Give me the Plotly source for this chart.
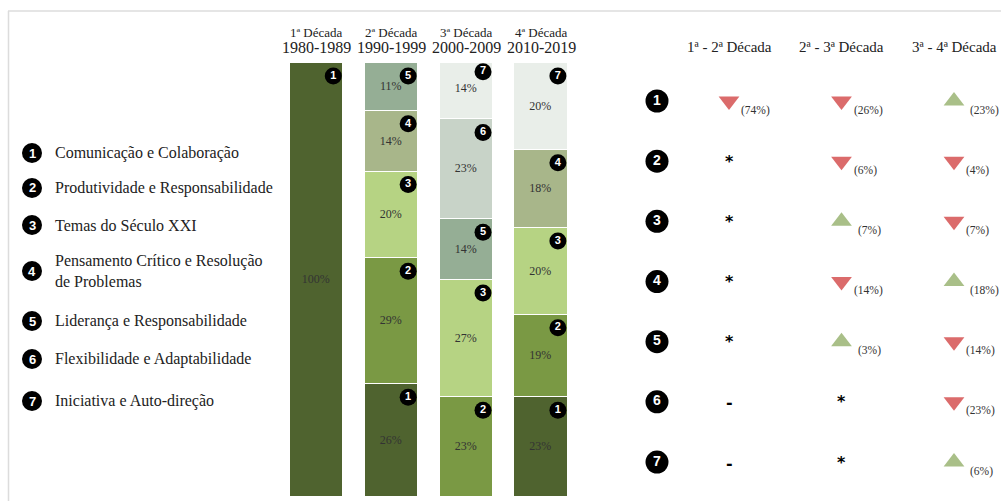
import plotly.graph_objects as go

W, H = 1001, 501

decades = ["1ª Década", "2ª Década", "3ª Década", "4ª Década"]
periods = ["1980-1989", "1990-1999", "2000-2009", "2010-2019"]
skills = [
    "Comunicação e Colaboração",
    "Produtividade e Responsabilidade",
    "Temas do Século XXI",
    "Pensamento Crítico e Resolução<br>de Problemas",
    "Liderança e Responsabilidade",
    "Flexibilidade e Adaptabilidade",
    "Iniciativa e Auto-direção",
]

# share (%) of each skill in each decade; None = not present
share_1 = [100, 26, None, 23]
share_2 = [None, 29, 23, 19]
share_3 = [None, 20, 27, 20]
share_4 = [None, 14, None, 18]
share_5 = [None, 11, 14, None]
share_6 = [None, None, 23, None]
share_7 = [None, None, 14, 20]
shares = [share_1, share_2, share_3, share_4, share_5, share_6, share_7]

# change between consecutive decades ("*" new, "-" absent)
comparisons = ["1ª - 2ª Década", "2ª - 3ª Década", "3ª - 4ª Década"]
change_12 = [-74, "*", "*", "*", "*", "-", "-"]
change_23 = [-26, -6, 7, -14, 3, "*", "*"]
change_34 = [23, -4, -7, 18, -14, -23, 6]
changes = [change_12, change_23, change_34]

colors = ["#4f632f", "#7a9944", "#b6d383", "#a8b68a", "#95ae95", "#c8d3c8", "#e9eee9"]
UP, DOWN = "#a9bf88", "#db6b6b"
SERIF = "Liberation Serif"
TXT = "#222222"


def px(x):
    return x / W


def py(y):
    return 1 - y / H


def note(**kw):
    kw.setdefault("xanchor", "center")
    kw.setdefault("yanchor", "middle")
    kw.setdefault("showarrow", False)
    fig.add_annotation(**kw)


fig = go.Figure()

# stacked decade bars
xs = list(range(len(decades)))
for k, vals in enumerate(shares):
    fig.add_trace(go.Bar(
        x=xs, y=vals, width=0.71,
        marker=dict(color=colors[k], line=dict(color="white", width=1.5)),
        texttemplate="%{y}%", textposition="inside", insidetextanchor="middle",
        textangle=0, constraintext="none",
        insidetextfont=dict(family=SERIF, size=12, color="#333333"),
        hoverinfo="skip", showlegend=False,
    ))

# numbered badges at the top-right of each segment
bx, by, bt = [], [], []
for i in xs:
    cum = 0
    for k, vals in enumerate(shares):
        v = vals[i]
        if v is None:
            continue
        cum += v
        bx.append(i + 0.225)
        by.append(cum - 3.0)
        bt.append(f"<b>{k + 1}</b>")
fig.add_trace(go.Scatter(
    x=bx, y=by, mode="markers+text", text=bt, textposition="middle center",
    marker=dict(size=17, color="black"),
    textfont=dict(family="Liberation Sans", size=11, color="white"),
    hoverinfo="skip", showlegend=False,
))

# decade headers
for i in xs:
    note(x=i, xref="x", y=py(32), yref="paper", text=decades[i],
         font=dict(family=SERIF, size=13, color=TXT))
    note(x=i, xref="x", y=py(48), yref="paper", text=periods[i],
         font=dict(family=SERIF, size=16, color=TXT))

# skill legend on the left
legend_rows = [153, 188, 225, 271, 321, 359, 401]
for k, name in enumerate(skills):
    yc = legend_rows[k]
    fig.add_shape(type="circle", xref="paper", yref="paper",
                  xsizemode="pixel", ysizemode="pixel",
                  xanchor=px(32), yanchor=py(yc), x0=-10, x1=10, y0=-10, y1=10,
                  fillcolor="black", line=dict(width=0))
    note(x=px(32), y=py(yc), xref="paper", yref="paper",
         text=f"<b>{k + 1}</b>",
         font=dict(family="Liberation Sans", size=13, color="white"))
    note(x=px(53), y=py(yc), xref="paper", yref="paper",
         xanchor="left", align="left", text=name,
         font=dict(family=SERIF, size=16, color=TXT))

# change table on the right
rows = list(range(1, len(skills) + 1))
fig.add_trace(go.Scatter(
    x=[-0.64] * len(rows), y=rows, mode="markers+text",
    text=[f"<b>{r}</b>" for r in rows], textposition="middle center",
    marker=dict(size=23, color="black"),
    textfont=dict(family="Liberation Sans", size=14, color="white"),
    xaxis="x2", yaxis="y2", hoverinfo="skip", showlegend=False,
))

tx, ty, tsym, tcol = [], [], [], []
for c, col in enumerate(changes):
    note(x=c, xref="x2", y=py(47), yref="paper", text=comparisons[c],
         font=dict(family=SERIF, size=15, color=TXT))
    for r, v in zip(rows, col):
        if isinstance(v, str):
            note(x=c, xref="x2", y=r, yref="y2", text=f"<b>{v}</b>",
                 yshift=0 if v == "*" else -1,
                 font=dict(family="DejaVu Sans", size=16, color="black"))
            continue
        up = v > 0
        tx.append(c)
        ty.append(r)
        tsym.append("triangle-up" if up else "triangle-down")
        tcol.append(UP if up else DOWN)
        note(x=c, xref="x2", y=r, yref="y2", text=f"({abs(v)}%)",
             xanchor="left", xshift=14 if up else 10, yshift=-9,
             font=dict(family=SERIF, size=11.5, color="#333333"))
fig.add_trace(go.Scatter(
    x=tx, y=ty, mode="markers",
    marker=dict(symbol=tsym, size=18, color=tcol, line=dict(width=0)),
    xaxis="x2", yaxis="y2", hoverinfo="skip", showlegend=False,
))

# frame lines
fig.add_shape(type="line", xref="paper", yref="paper", x0=px(8.5), x1=px(8.5),
              y0=py(11), y1=0, line=dict(color="#dcdcdc", width=1.5))
fig.add_shape(type="line", xref="paper", yref="paper", x0=px(8), x1=1,
              y0=py(11), y1=py(11), line=dict(color="#dcdcdc", width=1.5))

hidden = dict(visible=False, showgrid=False, zeroline=False, fixedrange=True)
row_px = 60.17
fig.update_layout(
    width=W, height=H, margin=dict(l=0, r=0, t=0, b=0),
    paper_bgcolor="white", plot_bgcolor="rgba(0,0,0,0)",
    barmode="stack", bargap=0,
    xaxis=dict(domain=[px(279), px(578.5)], range=[-0.5, 3.5], **hidden),
    yaxis=dict(domain=[py(497), py(63)], range=[0, 100], **hidden),
    xaxis2=dict(domain=[px(640), px(1000)], anchor="y2",
                range=[(640 - 729) / 112.5, (1000 - 729) / 112.5], **hidden),
    yaxis2=dict(domain=[0, 1], anchor="x2",
                range=[1 + (501 - 101) / row_px, 1 - 101 / row_px], **hidden),
)

fig.write_html("out.html")
